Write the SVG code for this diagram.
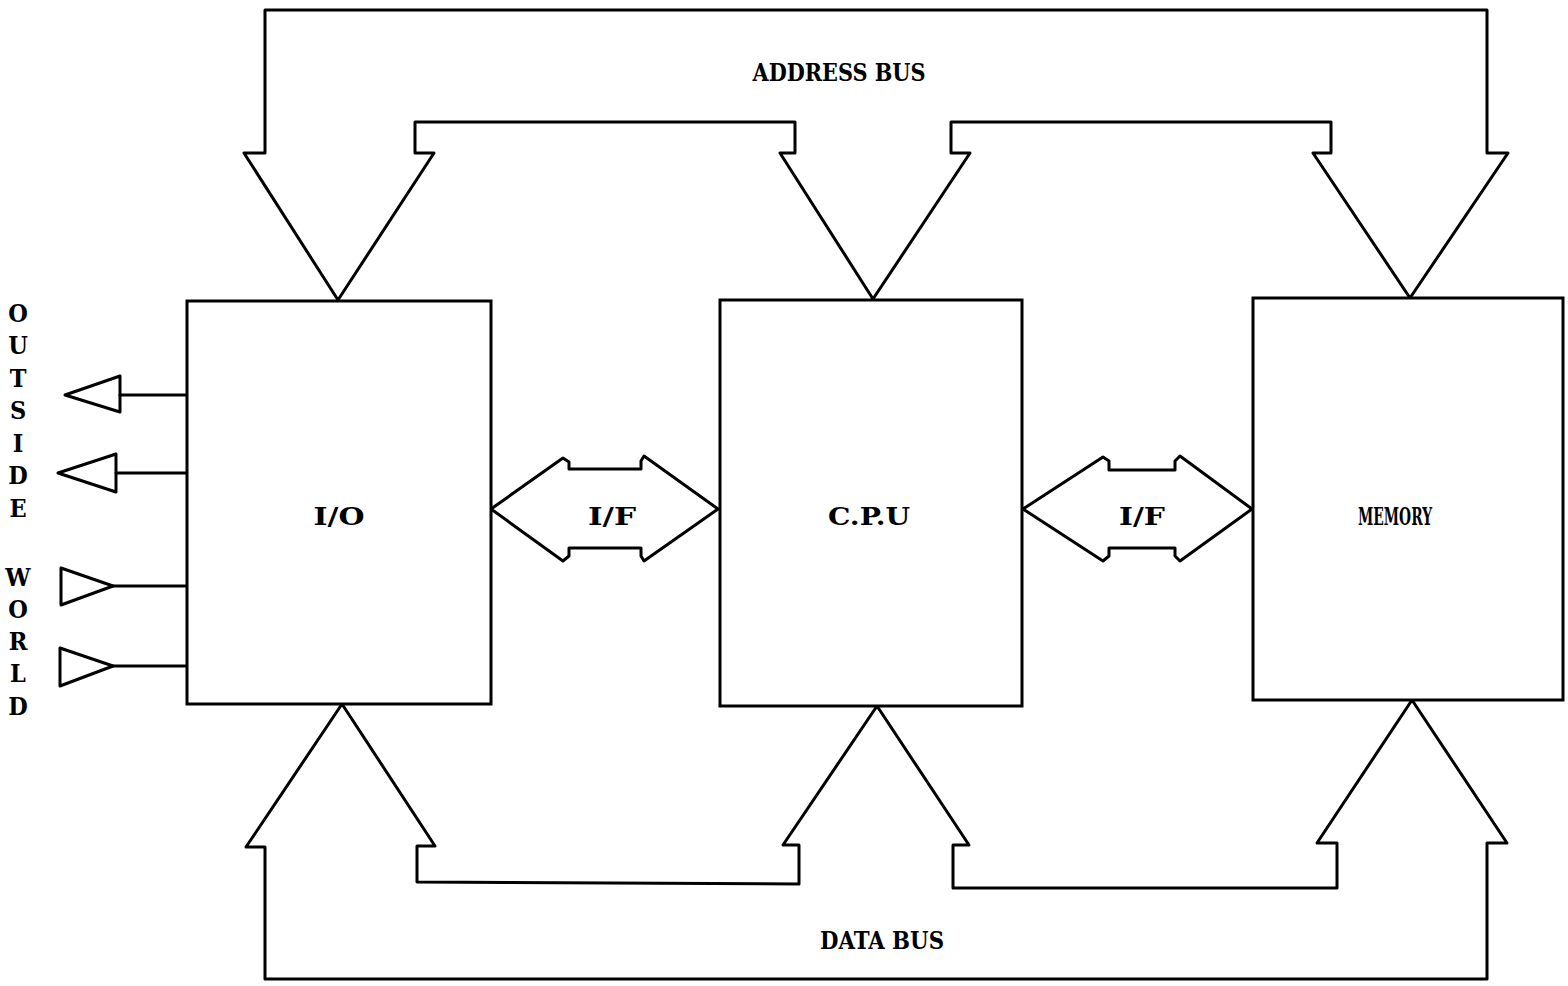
<svg xmlns="http://www.w3.org/2000/svg" width="1568" height="986" viewBox="0 0 1568 986">
<style>
.ln{fill:none;stroke:#000;stroke-width:3;stroke-linejoin:round;stroke-linecap:round}
.bx{fill:#fff;stroke:#000;stroke-width:3}
.t{font-family:"DejaVu Serif Condensed","DejaVu Serif","Liberation Serif",serif;font-stretch:condensed;font-weight:bold;font-size:25px;fill:#000;text-anchor:middle}
</style>
<rect width="1568" height="986" fill="#fff"/>
<g id="connectors">
<path id="address-bus" class="ln" d="M265,153 L265,10 L1487,10 L1487,153 L1508,153 L1410,298 L1313,153 L1331,153 L1331,122 L951,122 L951,153 L970,153 L873,299 L780,153 L795,153 L795,122 L415,122 L415,153 L434,153 L338,300 L244,153 Z"/>
<path id="data-bus" class="ln" d="M265,847 L265,979 L1487,979 L1487,843 L1507,843 L1412,700 L1317,843 L1337,843 L1337,888 L953,888 L953,845 L969,845 L877,706 L783,845 L799,845 L799,884 L417,882 L417,846 L435,846 L342,704 L246,847 Z"/>
<path id="if-io-cpu" class="ln" d="M491,509 L563,458 L569,462 L569,469 L641,469 L641,461 L644,456 L718,509 L644,561 L641,556 L641,548 L569,548 L569,556 L563,561 Z"/>
<path id="if-cpu-mem" class="ln" d="M1023,509 L1103,457 L1109,461 L1109,470 L1175,470 L1175,461 L1180,456 L1252,509 L1180,561 L1175,556 L1175,548 L1109,548 L1109,556 L1103,561 Z"/>
<g id="outside-lines">
<path class="ln" d="M120,395 L187,395"/>
<path class="ln" d="M65,395 L120,376 L120,412 Z"/>
<path class="ln" d="M116,473 L187,473"/>
<path class="ln" d="M58,473 L116,454 L116,492 Z"/>
<path class="ln" d="M113,586 L187,586"/>
<path class="ln" d="M61,568 L61,605 L113,586 Z"/>
<path class="ln" d="M113,666 L187,666"/>
<path class="ln" d="M60,648 L60,686 L113,666 Z"/>
</g>
</g>
<g id="io">
<rect class="bx" x="187" y="301" width="304" height="403"/>
<text class="t" x="339" y="525" textLength="51" lengthAdjust="spacingAndGlyphs">I/O</text>
</g>
<g id="cpu">
<rect class="bx" x="720" y="300" width="302" height="406"/>
<text class="t" x="869" y="525" textLength="82" lengthAdjust="spacingAndGlyphs">C.P.U</text>
</g>
<g id="memory">
<rect class="bx" x="1253" y="298" width="310" height="402"/>
<text class="t" x="1395" y="525" textLength="74" lengthAdjust="spacingAndGlyphs">MEMORY</text>
</g>
<g id="labels">
<text class="t" x="612" y="525" textLength="48" lengthAdjust="spacingAndGlyphs">I/F</text>
<text class="t" x="1142" y="525" textLength="46" lengthAdjust="spacingAndGlyphs">I/F</text>
<text class="t" x="839" y="81" textLength="173" lengthAdjust="spacingAndGlyphs">ADDRESS BUS</text>
<text class="t" x="882" y="949" textLength="124" lengthAdjust="spacingAndGlyphs">DATA BUS</text>
<text class="t" x="18" y="322">O</text>
<text class="t" x="18" y="354">U</text>
<text class="t" x="18" y="387">T</text>
<text class="t" x="18" y="419">S</text>
<text class="t" x="18" y="452">I</text>
<text class="t" x="18" y="484">D</text>
<text class="t" x="18" y="517">E</text>
<text class="t" x="18" y="586">W</text>
<text class="t" x="18" y="618">O</text>
<text class="t" x="18" y="650">R</text>
<text class="t" x="18" y="682">L</text>
<text class="t" x="18" y="715">D</text>
</g>
</svg>
